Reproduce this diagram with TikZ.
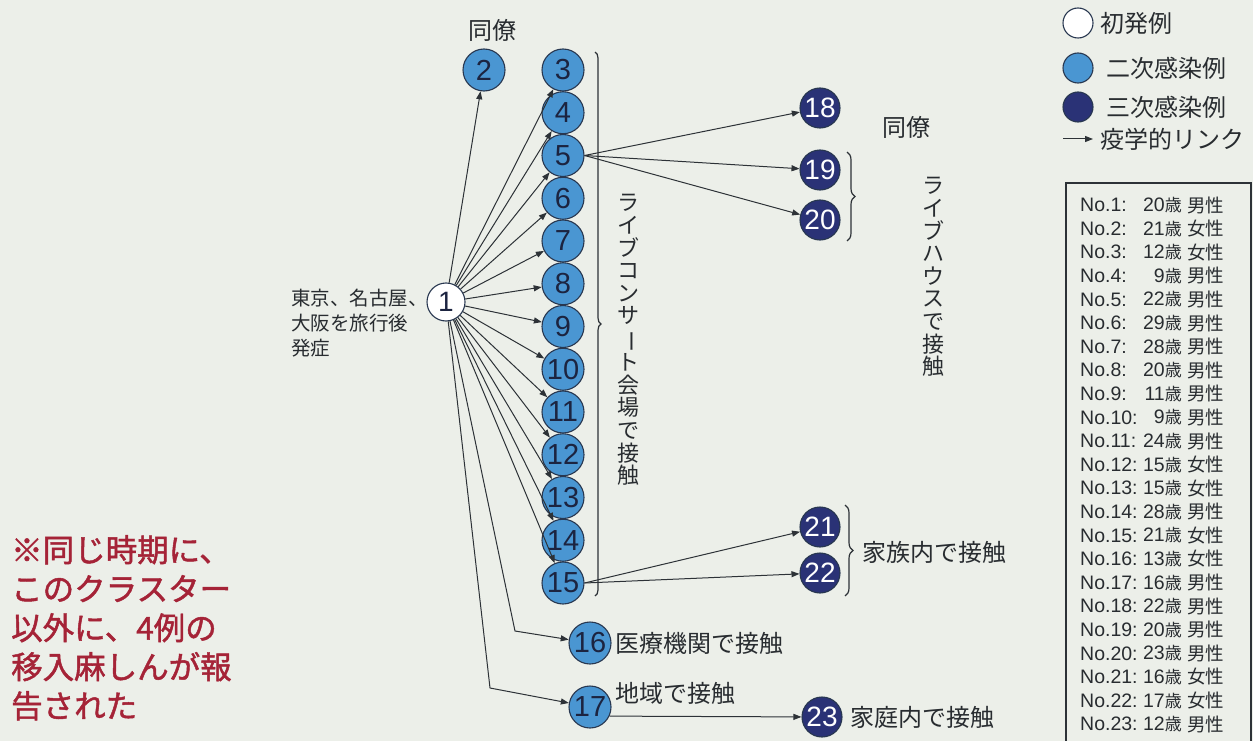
\documentclass[tikz,border=0pt]{standalone}
\usepackage{fontspec}
\setmainfont{Liberation Sans}
\newfontfamily\jp{Noto Sans CJK JP}
\newfontfamily\jpb{Noto Sans CJK JP}[FakeBold=1.5]
\usetikzlibrary{arrows.meta,decorations.pathreplacing}
\definecolor{bgc}{RGB}{236,239,233}
\definecolor{secblue}{RGB}{74,150,210}
\definecolor{terblue}{RGB}{42,50,118}
\definecolor{edgec}{RGB}{40,55,80}
\definecolor{numc}{RGB}{28,36,64}
\definecolor{linec}{RGB}{45,50,55}
\definecolor{txtc}{RGB}{40,44,48}
\definecolor{redc}{RGB}{165,35,55}
\tikzset{
  sec/.style={circle, draw=edgec, line width=1.1pt, fill=secblue, minimum size=42pt, inner sep=0pt, font=\fontsize{29}{29}\selectfont, text=numc},
  ter/.style={circle, draw=edgec, line width=1.1pt, fill=terblue, minimum size=40pt, inner sep=0pt, font=\fontsize{28}{28}\selectfont, text=white},
  prim/.style={circle, draw=edgec, line width=1.1pt, fill=white, minimum size=38pt, inner sep=0pt, font=\fontsize{28}{28}\selectfont, text=numc},
  lnk/.style={-{Triangle[length=8pt,width=6pt]}, line width=1pt, draw=linec},
  lbl/.style={font=\jp\fontsize{24}{26}\selectfont, text=txtc, inner sep=0pt},
  vlbl/.style={font=\jp\fontsize{22}{22.6}\selectfont, text=txtc, inner sep=0pt, align=center},
  brc/.style={decorate, decoration={brace, amplitude=8pt}, line width=1.2pt, draw=linec},
  tab/.style={font=\fontsize{19.5}{19.5}\selectfont, text=txtc, inner sep=0pt},
  legc/.style={circle, draw=edgec, line width=1.1pt, minimum size=30pt, inner sep=0pt}
}
\begin{document}
\begin{tikzpicture}[x=1pt,y=-1pt]
\useasboundingbox (0,0) rectangle (1253,741);
\fill[bgc] (0,0) rectangle (1253,741);

% primary case
\node[prim] (n1) at (446,302) {1};
\node[lbl, font=\jp\fontsize{19.5}{25}\selectfont, align=left, anchor=north west] (t1) at (291,289) {東京、名古屋、\\大阪を旅行後\\発症};

% secondary cases
\node[sec] (n2) at (484,70) {2};
\foreach \k in {3,...,15} {
  \node[sec] (n\k) at (563,{70+(\k-3)*42.75}) {\k};
}
\node[sec] (n16) at (590,643) {16};
\node[sec] (n17) at (590,707) {17};

% tertiary cases
\node[ter] (n18) at (820,108) {18};
\node[ter] (n19) at (820,170) {19};
\node[ter] (n20) at (820,220) {20};
\node[ter] (n21) at (820,527) {21};
\node[ter] (n22) at (820,573) {22};
\node[ter] (n23) at (822,717) {23};

% links from 1
\foreach \k in {2,...,15} {
  \draw[lnk] (n1) -- (n\k);
}
\coordinate (b16) at (515,631);
\coordinate (b17) at (490,688);
\draw[lnk] (n1) -- (b16) -- (n16);
\draw[lnk] (n1) -- (b17) -- (n17);

% links from 5, 15, 17
\draw[lnk] (n5.east) -- (n18);
\draw[lnk] (n5.east) -- (n19);
\draw[lnk] (n5.east) -- (n20);
\draw[lnk] (n15.east) -- (n21);
\draw[lnk] (n15.east) -- (n22);
\draw[lnk] (n17.-25) -- (n23);

% braces
\coordinate (c1a) at (595,52);
\coordinate (c1b) at (595,596);
\draw[brc, decoration={brace, amplitude=6pt}] (c1a) -- (c1b);
\coordinate (c2a) at (847,152);
\coordinate (c2b) at (847,241);
\draw[brc] (c2a) -- (c2b);
\coordinate (c3a) at (845,505);
\coordinate (c3b) at (845,596);
\draw[brc] (c3a) -- (c3b);

% labels
\node[lbl] (tdo1) at (492,30) {同僚};
\node[lbl] (tdo2) at (906,127) {同僚};
\node[vlbl] (tcon) at (628,340) {ラ\\イ\\ブ\\コ\\ン\\サ\\\rotatebox[origin=c]{-90}{ー}\\ト\\会\\場\\で\\接\\触};
\node[vlbl] (tlh) at (933,277) {ラ\\イ\\ブ\\ハ\\ウ\\ス\\で\\接\\触};
\node[lbl, anchor=west] (tfam) at (862,552) {家族内で接触};
\node[lbl, anchor=west] (tmed) at (615,643) {医療機関で接触};
\node[lbl, anchor=west] (tcom) at (615,693) {地域で接触};
\node[lbl, anchor=west] (thome) at (850,717) {家庭内で接触};

% red note
\node[font=\jpb\fontsize{31.5}{39}\selectfont, text=redc, align=left, anchor=north west, inner sep=0pt] (note) at (11,535) {※同じ時期に、\\このクラスター\\以外に、4例の\\移入麻しんが報\\告された};

% legend
\node[legc, fill=white] (l1) at (1078,23) {};
\node[legc, fill=secblue] (l2) at (1078,68) {};
\node[legc, fill=terblue] (l3) at (1078,107) {};
\coordinate (la) at (1063,139);
\coordinate (lb) at (1093,139);
\draw[lnk] (la) -- (lb);
\node[lbl, anchor=west] (lt1) at (1100,23) {初発例};
\node[lbl, anchor=west] (lt2) at (1106,68) {二次感染例};
\node[lbl, anchor=west] (lt3) at (1106,107) {三次感染例};
\node[lbl, anchor=west] (lt4) at (1100,139) {疫学的リンク};

% table
\draw[line width=1.5pt, draw=linec] (1066,183) rectangle (1251,746);
\foreach \i/\a/\g [count=\r from 0] in {1/20/男,2/21/女,3/12/女,4/9/男,5/22/男,6/29/男,7/28/男,8/20/男,9/11/男,10/9/男,11/24/男,12/15/女,13/15/女,14/28/男,15/21/女,16/13/女,17/16/男,18/22/男,19/20/男,20/23/男,21/16/女,22/17/女,23/12/男} {
  \node[tab, anchor=west] (r\i a) at (1080,{205+\r*23.6}) {No.\i:};
  \node[tab, anchor=east] (r\i b) at (1182,{205+\r*23.6}) {\a{\jp\fontsize{17}{17}\selectfont 歳}};
  \node[tab, anchor=west, font=\jp\fontsize{18.5}{19}\selectfont] (r\i c) at (1187,{205+\r*23.6}) {\g 性};
}
\end{tikzpicture}
\end{document}
